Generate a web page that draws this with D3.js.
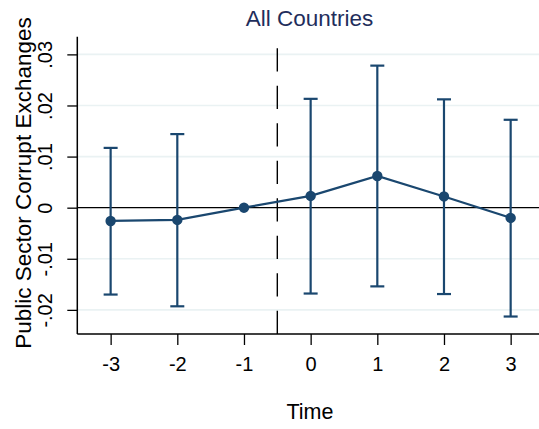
<!DOCTYPE html>
<html>
<head>
<meta charset="utf-8">
<script src="https://cdn.jsdelivr.net/npm/d3@7"></script>
<style>
  html, body { margin: 0; padding: 0; background: #fff; }
  svg { display: block; font-family: "Liberation Sans", Arial, Helvetica, sans-serif; }
</style>
</head>
<body>
<svg id="chart" width="539" height="429"></svg>
<script>
// Event-study estimates: coefficient and 95% interval by period
const times = [-3, -2, -1, 0, 1, 2, 3];
const coef  = [-0.0026, -0.0024, 0, 0.0023, 0.0062, 0.0022, -0.0020];
const lower = [-0.0170, -0.0193, null, -0.0168, -0.0154, -0.0169, -0.0213];
const upper = [0.0117, 0.0144, null, 0.0213, 0.0278, 0.0212, 0.0172];
const yTicks = [-0.02, -0.01, 0, 0.01, 0.02, 0.03];
const yTickLabels = ["-.02", "-.01", "0", ".01", ".02", ".03"];
const xTicks = [-3, -2, -1, 0, 1, 2, 3];
const eventLine = -0.5;

const W = 539, H = 429;
const plotLeft = 77.3, plotTop = 36.7, plotBottom = 334;
const navy = "#1a476f";

const svg = d3.select("#chart");

const x = d3.scaleLinear().domain([-3.5, 3.5]).range([plotLeft, plotLeft + 7 * 66.67]);
const y = d3.scaleLinear().domain([-0.02472, 0.03346]).range([plotBottom, plotTop]);

// grid lines
svg.append("g").selectAll("line").data(yTicks.filter(d => d !== 0)).join("line")
  .attr("x1", plotLeft).attr("x2", W)
  .attr("y1", d => y(d)).attr("y2", d => y(d))
  .attr("stroke", "#eaf2f3").attr("stroke-width", 1.6);

// zero reference line
svg.append("line")
  .attr("x1", plotLeft).attr("x2", W)
  .attr("y1", y(0)).attr("y2", y(0))
  .attr("stroke", "#000").attr("stroke-width", 1.3);

// event line, dashes laid out from the x axis upward
svg.append("line")
  .attr("x1", x(eventLine)).attr("x2", x(eventLine))
  .attr("y1", plotBottom).attr("y2", plotTop)
  .attr("stroke", "#000").attr("stroke-width", 1.4)
  .attr("stroke-dasharray", "23.3,14.2");

// y axis
const yAxis = svg.append("g").attr("transform", `translate(${plotLeft},0)`)
  .call(d3.axisLeft(y).tickValues(yTicks).tickSize(10).tickFormat((d, i) => yTickLabels[i]));
yAxis.select(".domain").attr("d", `M0,${plotTop}V${plotBottom}`).attr("stroke-width", 1.5);
yAxis.selectAll(".tick line").attr("stroke-width", 1.3);
yAxis.selectAll(".tick text")
  .attr("font-size", 20).attr("fill", "#000")
  .attr("x", 0).attr("dy", 0)
  .attr("text-anchor", "middle")
  .attr("transform", "translate(-25,0) rotate(-90)");

// x axis
const xAxis = svg.append("g").attr("transform", `translate(0,${plotBottom})`)
  .call(d3.axisBottom(x).tickValues(xTicks).tickSize(11).tickFormat(d3.format("d")));
xAxis.select(".domain").attr("d", `M${plotLeft},0H${W}`).attr("stroke-width", 1.5);
xAxis.selectAll(".tick line").attr("stroke-width", 1.3);
xAxis.selectAll(".tick text")
  .attr("font-size", 20).attr("fill", "#000")
  .attr("y", 37).attr("dy", 0)
  .text(d => d < 0 ? "-" + Math.abs(d) : d);

// confidence intervals
const idx = d3.range(times.length).filter(i => lower[i] !== null);
const ci = svg.append("g").attr("stroke", navy).attr("stroke-width", 2.2).attr("fill", "none");
ci.selectAll("line.v").data(idx).join("line").attr("class", "v")
  .attr("x1", i => x(times[i])).attr("x2", i => x(times[i]))
  .attr("y1", i => y(lower[i])).attr("y2", i => y(upper[i]));
ci.selectAll("line.capU").data(idx).join("line").attr("class", "capU")
  .attr("x1", i => x(times[i]) - 7).attr("x2", i => x(times[i]) + 7)
  .attr("y1", i => y(upper[i])).attr("y2", i => y(upper[i]));
ci.selectAll("line.capL").data(idx).join("line").attr("class", "capL")
  .attr("x1", i => x(times[i]) - 7).attr("x2", i => x(times[i]) + 7)
  .attr("y1", i => y(lower[i])).attr("y2", i => y(lower[i]));

// connecting line and point estimates
svg.append("path")
  .datum(d3.range(times.length))
  .attr("fill", "none").attr("stroke", navy).attr("stroke-width", 2.2)
  .attr("d", d3.line().x(i => x(times[i])).y(i => y(coef[i])));
svg.append("g").selectAll("circle").data(d3.range(times.length)).join("circle")
  .attr("cx", i => x(times[i])).attr("cy", i => y(coef[i]))
  .attr("r", 5.2).attr("fill", navy);

// titles
svg.append("text").attr("x", 309.5).attr("y", 26)
  .attr("text-anchor", "middle").attr("font-size", 22.5).attr("fill", "#1f2e5c")
  .text("All Countries");
svg.append("text").attr("x", 310).attr("y", 419)
  .attr("text-anchor", "middle").attr("font-size", 21.5).attr("fill", "#000")
  .text("Time");
svg.append("text")
  .attr("transform", "translate(31,183) rotate(-90)")
  .attr("text-anchor", "middle").attr("font-size", 22.5).attr("fill", "#000")
  .text("Public Sector Corrupt Exchanges");
</script>
</body>
</html>
